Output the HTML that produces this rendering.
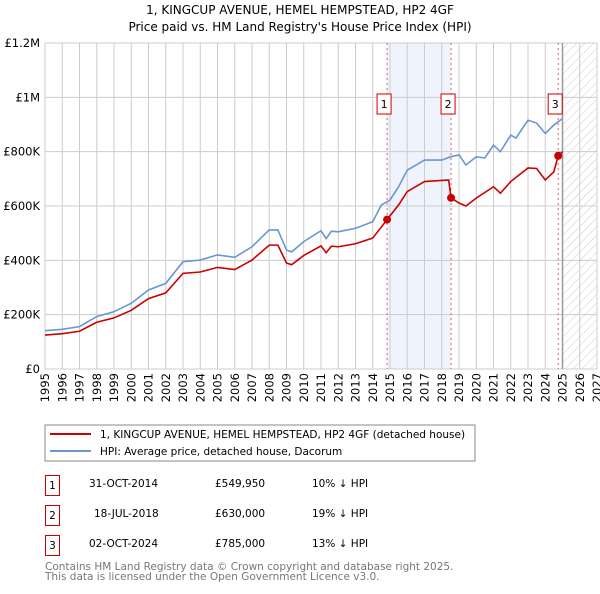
<!DOCTYPE html>
<html><head><meta charset="utf-8"><style>
body{margin:0;background:#fff;font-family:"DejaVu Sans","Liberation Sans",sans-serif;}
svg text{font-family:"DejaVu Sans","Liberation Sans",sans-serif;}
</style></head><body>
<svg id="c" width="600" height="590" xmlns="http://www.w3.org/2000/svg">
<defs><pattern id="hatch" width="6" height="6" patternUnits="userSpaceOnUse" patternTransform="rotate(45)"><line x1="0" y1="0" x2="0" y2="6" stroke="#ccc" stroke-width="1"/></pattern></defs>
<text x="300" y="14" text-anchor="middle" font-size="12">1, KINGCUP AVENUE, HEMEL HEMPSTEAD, HP2 4GF</text>
<text x="300" y="31" text-anchor="middle" font-size="12">Price paid vs. HM Land Registry's House Price Index (HPI)</text>
<g id="plot"></g>
<rect x="45" y="425" width="430" height="36" fill="#fff" stroke="#888"/>
<line x1="50" y1="434" x2="91" y2="434" stroke="#cc0000" stroke-width="2"/>
<text x="100" y="438" font-size="10.5">1, KINGCUP AVENUE, HEMEL HEMPSTEAD, HP2 4GF (detached house)</text>
<line x1="50" y1="451" x2="91" y2="451" stroke="#6a96d2" stroke-width="2"/>
<text x="100" y="455" font-size="10.5">HPI: Average price, detached house, Dacorum</text>
<g font-size="10.5">
<rect x="45.5" y="475.5" width="14" height="20" fill="none" stroke="#cc0000"/><text x="52.5" y="489" text-anchor="middle">1</text>
<text x="89" y="487">31-OCT-2014</text><text x="215" y="487">£549,950</text><text x="312" y="487">10% ↓ HPI</text>
<rect x="45.5" y="505.5" width="14" height="20" fill="none" stroke="#cc0000"/><text x="52.5" y="519" text-anchor="middle">2</text>
<text x="94" y="517">18-JUL-2018</text><text x="215" y="517">£630,000</text><text x="312" y="517">19% ↓ HPI</text>
<rect x="45.5" y="535.5" width="14" height="20" fill="none" stroke="#cc0000"/><text x="52.5" y="549" text-anchor="middle">3</text>
<text x="89" y="547">02-OCT-2024</text><text x="215" y="547">£785,000</text><text x="312" y="547">13% ↓ HPI</text>
</g>
<text x="45" y="570" font-size="10.5" fill="#777">Contains HM Land Registry data © Crown copyright and database right 2025.</text>
<text x="45" y="580" font-size="10.5" fill="#777">This data is licensed under the Open Government Licence v3.0.</text>
</svg>
<script>
const hpiYears=[1995,1996,1997,1998,1999,2000,2001,2002,2003,2004,2005,2006,2007,2008,2008.5,2009,2009.3,2010,2011,2011.3,2011.6,2012,2013,2014,2014.5,2015,2015.5,2016,2017,2018,2018.5,2019,2019.4,2020,2020.5,2021,2021.4,2022,2022.3,2023,2023.5,2024,2024.5,2025];
const hpiValues=[141000,146000,156000,193000,211000,242000,291000,315000,395000,401000,420000,411000,450000,512000,512000,438000,431000,469000,509000,480000,507000,505000,518000,542000,604000,622000,671000,732000,769000,769000,781000,788000,751000,781000,777000,824000,800000,861000,850000,916000,905000,867000,898000,922000];
const ppYears=[1995,1996,1997,1998,1999,2000,2001,2002,2003,2004,2005,2006,2007,2008,2008.5,2009,2009.3,2010,2011,2011.3,2011.6,2012,2013,2014,2014.83,2015.5,2016,2017,2018.4,2018.54,2019,2019.4,2020,2021,2021.4,2022,2023,2023.5,2024,2024.5,2024.75,2025];
const ppValues=[125000,130000,139000,172000,188000,216000,259000,280000,352000,357000,374000,366000,401000,456000,456000,390000,384000,418000,453000,428000,452000,450000,461000,482000,549950,604000,653000,690000,696000,630000,611000,600000,629000,671000,647000,690000,740000,738000,696000,726000,785000,800000];
const saleYears=[2014.83,2018.54,2024.75];
const saleValues=[549950,630000,785000];
const saleLabels=["1","2","3"];
const yTicks=[0,200000,400000,600000,800000,1000000,1200000];
const yTickLabels=["£0","£200K","£400K","£600K","£800K","£1M","£1.2M"];
const xTicks=[1995,1996,1997,1998,1999,2000,2001,2002,2003,2004,2005,2006,2007,2008,2009,2010,2011,2012,2013,2014,2015,2016,2017,2018,2019,2020,2021,2022,2023,2024,2025,2026,2027];

const X0=45,X1=597,Y0=369,Y1=43;
const xs=y=>X0+(y-1995)/(2027-1995)*(X1-X0);
const ys=v=>Y0-v/1200000*(Y0-Y1);
const NS="http://www.w3.org/2000/svg";
const g=document.getElementById('plot');
function mk(t,a){const e=document.createElementNS(NS,t);for(const k in a)e.setAttribute(k,a[k]);g.appendChild(e);return e;}
let e;
e=mk('rect',{x:X0,y:Y1,width:X1-X0,height:Y0-Y1,fill:'#fff'});


e=mk('rect',{x:xs(saleYears[0]),y:Y1,width:xs(saleYears[1])-xs(saleYears[0]),height:Y0-Y1,fill:'#eef3fc'});


e=mk('rect',{x:xs(2025),y:Y1,width:X1-xs(2025),height:Y0-Y1,fill:'url(#hatch)'});


xTicks.forEach(t=>{
 e=mk('line',{x1:xs(t),x2:xs(t),y1:Y1,y2:Y0,stroke:'#ccc'});
 
 
 const tx=xs(t)+4, ty=373;
 e=mk('text',{x:tx,y:ty,'text-anchor':'end','font-size':'11.5',transform:'rotate(-90 '+tx+' '+ty+')'});e.textContent=t;
 
 
});
yTicks.forEach((t,i)=>{
 e=mk('line',{x1:X0,x2:X1,y1:ys(t),y2:ys(t),stroke:'#ccc'});
 
 
 e=mk('text',{x:40,y:ys(t)+4,'text-anchor':'end','font-size':'11.5'});e.textContent=yTickLabels[i];
 
 
});
e=mk('line',{x1:xs(2025),x2:xs(2025),y1:Y1,y2:Y0,stroke:'#999','stroke-width':1.5});


saleYears.forEach((s,i)=>{
 e=mk('line',{x1:xs(s),x2:xs(s),y1:Y1,y2:Y0,stroke:'#e06060','stroke-dasharray':'2,3'});
 
 
});
e=mk('polyline',{points:hpiYears.map((y,i)=>xs(y)+','+ys(hpiValues[i])).join(' '),fill:'none',stroke:'#6a96d2','stroke-width':1.6});


e=mk('polyline',{points:ppYears.map((y,i)=>xs(y)+','+ys(ppValues[i])).join(' '),fill:'none',stroke:'#cc0000','stroke-width':1.6});


saleYears.forEach((s,i)=>{
 e=mk('circle',{cx:xs(s),cy:ys(saleValues[i]),r:4,fill:'#cc0000'});
 
 
 const bx=xs(s)-7;
 e=mk('rect',{x:bx-3,y:94,width:14,height:20,fill:'#fff',stroke:'#cc0000'});
 
 
 e=mk('text',{x:bx+4,y:108,'text-anchor':'middle','font-size':'11'});e.textContent=saleLabels[i];
 
 
});
</script>
</body></html>
